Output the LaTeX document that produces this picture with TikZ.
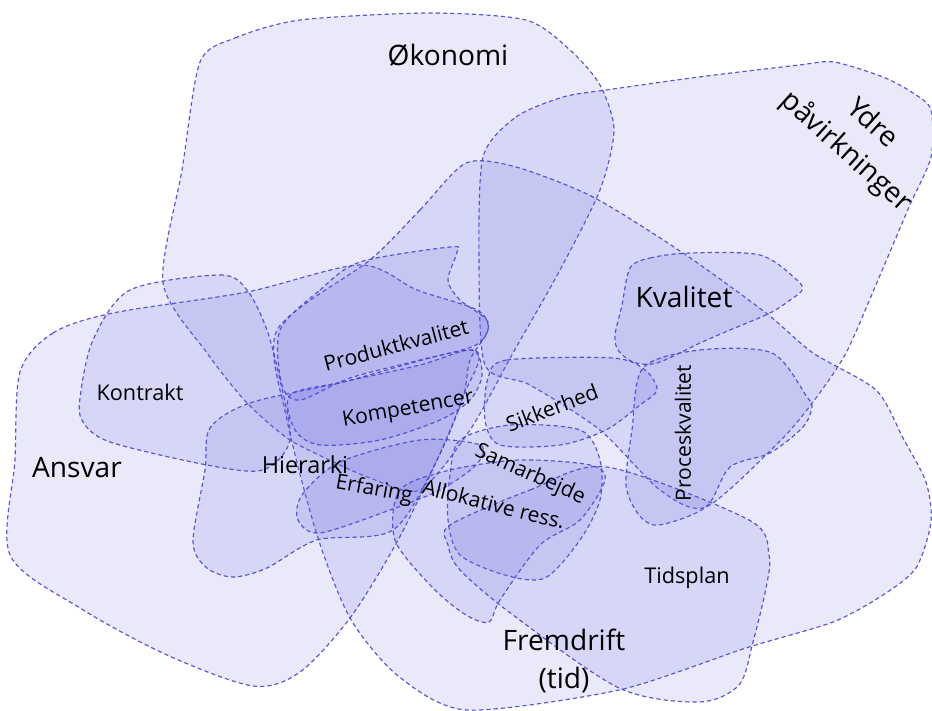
\documentclass[tikz,border=0pt]{standalone}
\usepackage{fontspec}
\setmainfont{Open Sans}
\definecolor{blobfill}{RGB}{100,100,220}
\definecolor{blobline}{RGB}{70,70,215}
\tikzset{
  blob/.style={fill=blobfill, fill opacity=0.14, draw=blobline, draw opacity=0.9,
    line width=1pt, dash pattern=on 3.6pt off 2.6pt},
  biglabel/.style={font=\fontsize{24}{33}\selectfont, inner sep=0pt, align=center},
  midlabel/.style={font=\fontsize{18}{22}\selectfont, inner sep=0pt},
  smalllabel/.style={font=\fontsize{18.5}{22}\selectfont, inner sep=0pt}
}
\newcommand{\ppBlob}[2][0.5]{%
    \path[blob] plot[smooth cycle, tension=#1] coordinates {#2};
}

\begin{document}
\begin{tikzpicture}[x=0.03cm, y=-0.03cm]
    \useasboundingbox (0,0) rectangle (932,711);
    % big areas
    \ppBlob[0.45]{(200,62) (235,38) (300,20) (430,13) (526,20) (570,50) (600,85) (614,130) (600,190) (560,270) (513,353) (470,430) (420,490) (370,478) (323,457) (287,438) (247,403) (207,353) (163,283) (182,170)}
    \ppBlob[0.45]{(483,157) (516,117) (563,97) (606,90) (699,77) (799,65) (834,62) (883,77) (913,93) (931,110) (931,157) (909,207) (878,280) (846,353) (813,402) (779,442) (706,507) (660,490) (600,430) (530,385) (485,365) (479,260)}
    \ppBlob[0.45]{(466,163) (420,210) (370,260) (277,330) (287,420) (317,535) (350,618) (397,675) (466,710) (619,690) (746,648) (833,622) (883,595) (916,568) (931,522) (926,482) (903,438) (876,390) (813,353) (766,313) (683,253) (593,197) (516,167)}
    \ppBlob{(20,372) (53,333) (113,313) (247,292) (360,265) (417,290) (477,310) (488,330) (470,360) (463,397) (437,460) (397,542) (350,618) (300,672) (253,686) (167,655) (80,608) (10,555) (15,460)}
    % smaller areas
    \ppBlob{(130,290) (220,275) (247,290) (267,330) (280,380) (290,440) (263,470) (207,465) (110,442) (83,422) (80,398) (93,340)}
    \ppBlob{(210,428) (250,403) (343,382) (473,350) (463,397) (437,460) (393,530) (317,540) (267,568) (233,577) (207,568) (193,542) (205,470)}
    \ppBlob{(280,330) (320,290) (360,262) (450,247) (457,252) (448,280) (460,300) (488,322) (476,345) (420,360) (350,378) (300,400) (282,385)}
    \ppBlob{(290,395) (343,382) (420,365) (472,350) (482,375) (470,400) (440,420) (380,440) (320,445) (295,430)}
    \ppBlob{(298,520) (302,495) (340,462) (420,440) (480,445) (476,465) (440,490) (390,510) (320,533)}
    \ppBlob{(488,378) (507,360) (613,358) (645,370) (657,390) (640,405) (606,430) (560,445) (500,445) (485,420)}
    \ppBlob{(460,440) (510,425) (580,430) (600,460) (600,500) (580,540) (545,578) (505,575) (460,555) (448,520) (450,475)}
    \ppBlob{(400,490) (450,470) (520,460) (590,465) (605,480) (580,520) (540,545) (500,600) (489,622) (466,615) (433,588) (395,540)}
    \ppBlob{(630,268) (650,258) (690,253) (760,255) (797,280) (802,290) (793,298) (770,313) (730,330) (700,343) (657,363) (633,362) (618,350) (615,335) (622,305)}
    \ppBlob{(643,368) (700,350) (772,353) (807,397) (812,407) (803,427) (770,453) (730,467) (706,507) (659,525) (639,515) (626,485) (632,430)}
    \ppBlob{(450,525) (530,490) (607,467) (749,520) (769,555) (766,588) (753,642) (739,685) (699,702) (619,688) (513,615) (460,570) (448,545)}
    % labels
    \node[biglabel] (okonomi) at (448,55) {Økonomi};
    \node[biglabel, rotate=-42] (ydre) at (874,122) {Ydre};
    \node[biglabel, rotate=-42] (pavirk) at (846,152) {påvirkninger};
    \node[biglabel] (kvalitet) at (684,297) {Kvalitet};
    \node[biglabel] (ansvar) at (77,468) {Ansvar};
    \node[biglabel] (fremdrift) at (564,661) {Fremdrift\\(tid)};
    \node[smalllabel] (kontrakt) at (140,392) {Kontrakt};
    \node[smalllabel, font=\fontsize{20}{24}\selectfont] (hierarki) at (305,465) {Hierarki};
    \node[smalllabel] (tidsplan) at (687,578) {Tidsplan};
    \node[midlabel, rotate=15] (produkt) at (396,345) {Produktkvalitet};
    \node[midlabel, rotate=10] (kompetencer) at (408,410) {Kompetencer};
    \node[midlabel, rotate=-10] (erfaring) at (374,490) {Erfaring};
    \node[midlabel, rotate=-14] (allokative) at (494,504) {Allokative ress.};
    \node[midlabel, rotate=21] (sikkerhed) at (552,408) {Sikkerhed};
    \node[midlabel, rotate=-24] (samarbejde) at (530,475) {Samarbejde};
    \node[midlabel, rotate=90] (proces) at (683,433) {Proceskvalitet};
\end{tikzpicture}
\end{document}
